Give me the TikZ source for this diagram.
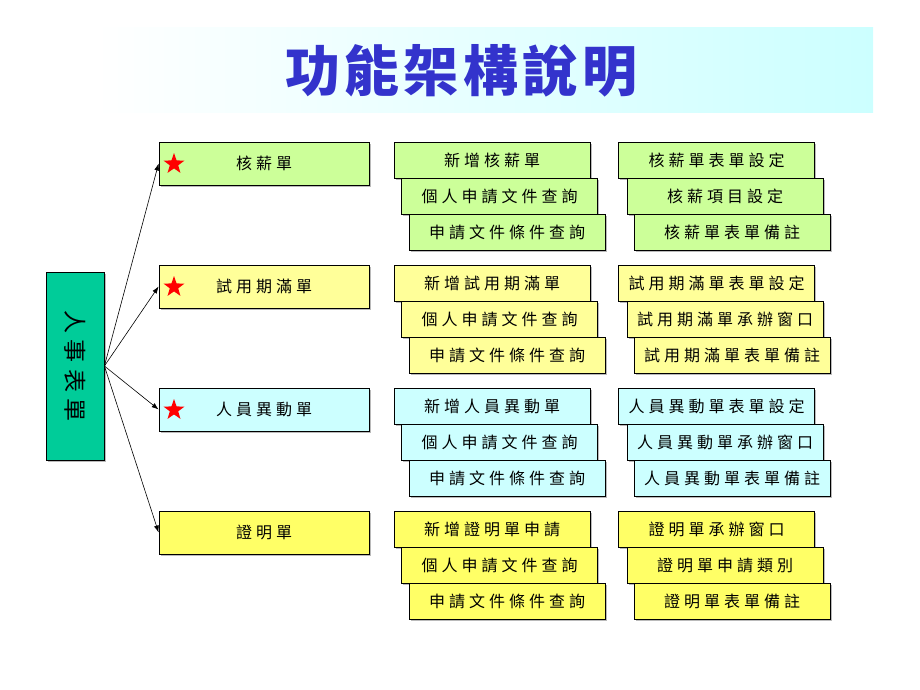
\documentclass[tikz,border=0pt]{standalone}
\usepackage{fontspec}
\setmainfont{Noto Sans CJK TC}[LetterSpace=25]
\newfontfamily\titlefont{Noto Sans CJK TC}[LetterSpace=8]
\usetikzlibrary{arrows.meta,shapes.geometric,shadows}
\definecolor{cgreen}{HTML}{CCFF99}
\definecolor{cyel}{HTML}{FFFF99}
\definecolor{ccyan}{HTML}{CCFFFF}
\definecolor{cyel2}{HTML}{FFFF66}
\definecolor{croot}{HTML}{00CC99}
\definecolor{ctitle}{HTML}{3333CC}
\definecolor{cband}{HTML}{CCFFFF}
\begin{document}
\begin{tikzpicture}[x=1pt,y=-1pt,
  box/.style={draw=black, line width=0.8pt, inner sep=0pt, font=\fontsize{16}{16}\selectfont,
    drop shadow={shadow xshift=1.5pt, shadow yshift=-1.5pt, opacity=0.45, fill=black!60}},
  lvone/.style={box, minimum width=210pt, minimum height=43pt},
  subbox/.style={box, minimum width=196pt, minimum height=36pt},
  link/.style={-{Latex[length=7pt,width=5pt]}, line width=0.6pt},
  redstar/.style={star, star points=5, star point ratio=2.5, fill=red, draw=none, minimum size=22pt, inner sep=0pt}]
\useasboundingbox (0,0) rectangle (920,690);
% title band
\shade[left color=white, right color=cband] (95,28) rectangle (873,113);
\node[font=\titlefont\bfseries\fontsize{55}{55}\selectfont, text=ctitle] (title) at (461,71) {功能架構說明};
% root
\node[draw=black, line width=0.8pt, fill=croot, minimum width=58pt, minimum height=188pt, inner sep=0pt,
  drop shadow={shadow xshift=1.5pt, shadow yshift=-1.5pt, opacity=0.45, fill=black!60}] (root) at (75,366) {};
\node[rotate=-90, font=\fontsize{23}{23}\selectfont\addfontfeature{LetterSpace=28}] (roottext) at (75,366) {人事表單};
% level one
\node[lvone, fill=cgreen] (g1) at (264,163.5) {核薪單};
\node[lvone, fill=cyel] (g2) at (264,286.5) {試用期滿單};
\node[lvone, fill=ccyan] (g3) at (264,409.5) {人員異動單};
\node[lvone, fill=cyel2] (g4) at (264,532.5) {證明單};
\node[redstar] (s1) at (174,164) {};
\node[redstar] (s2) at (174,287) {};
\node[redstar] (s3) at (174,410) {};
% connectors
\draw[link] (root.east) -- (g1.west);
\draw[link] (root.east) -- (g2.west);
\draw[link] (root.east) -- (g3.west);
\draw[link] (root.east) -- (g4.west);
% group 1
\node[subbox, fill=cgreen] (a11) at (492,160) {新增核薪單};
\node[subbox, fill=cgreen] (a12) at (499.5,196) {個人申請文件查詢};
\node[subbox, fill=cgreen] (a13) at (507,232) {申請文件條件查詢};
\node[subbox, fill=cgreen] (b11) at (716.5,160) {核薪單表單設定};
\node[subbox, fill=cgreen] (b12) at (725,196) {核薪項目設定};
\node[subbox, fill=cgreen] (b13) at (732,232) {核薪單表單備註};
% group 2
\node[subbox, fill=cyel] (a21) at (492,283) {新增試用期滿單};
\node[subbox, fill=cyel] (a22) at (499.5,319) {個人申請文件查詢};
\node[subbox, fill=cyel] (a23) at (507,355) {申請文件條件查詢};
\node[subbox, fill=cyel] (b21) at (716.5,283) {試用期滿單表單設定};
\node[subbox, fill=cyel] (b22) at (725,319) {試用期滿單承辦窗口};
\node[subbox, fill=cyel] (b23) at (732,355) {試用期滿單表單備註};
% group 3
\node[subbox, fill=ccyan] (a31) at (492,406) {新增人員異動單};
\node[subbox, fill=ccyan] (a32) at (499.5,442) {個人申請文件查詢};
\node[subbox, fill=ccyan] (a33) at (507,478) {申請文件條件查詢};
\node[subbox, fill=ccyan] (b31) at (716.5,406) {人員異動單表單設定};
\node[subbox, fill=ccyan] (b32) at (725,442) {人員異動單承辦窗口};
\node[subbox, fill=ccyan] (b33) at (732,478) {人員異動單表單備註};
% group 4
\node[subbox, fill=cyel2] (a41) at (492,529) {新增證明單申請};
\node[subbox, fill=cyel2] (a42) at (499.5,565) {個人申請文件查詢};
\node[subbox, fill=cyel2] (a43) at (507,601) {申請文件條件查詢};
\node[subbox, fill=cyel2] (b41) at (716.5,529) {證明單承辦窗口};
\node[subbox, fill=cyel2] (b42) at (725,565) {證明單申請類別};
\node[subbox, fill=cyel2] (b43) at (732,601) {證明單表單備註};
\end{tikzpicture}
\end{document}
